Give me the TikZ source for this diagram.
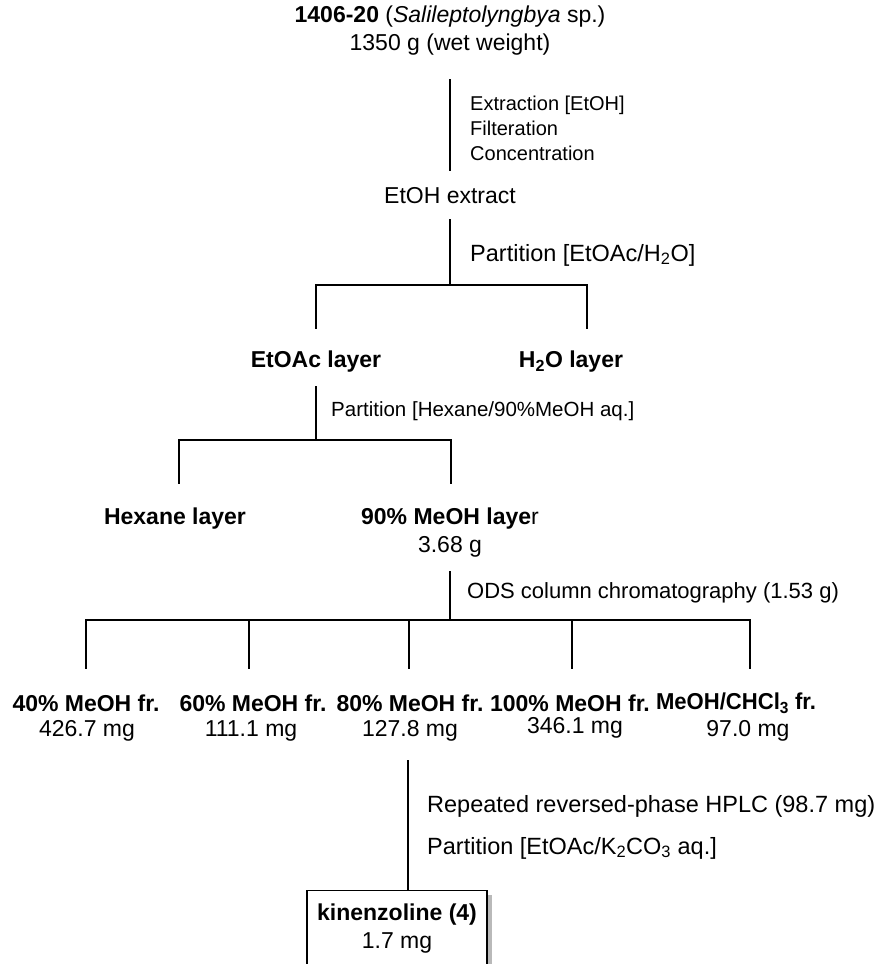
\documentclass[tikz,border=0pt]{standalone}
\usepackage{fontspec}
\setmainfont{Liberation Sans}
\newcommand\bigtxt{\fontsize{23}{28}\selectfont}
\newcommand\steptxt{\fontsize{23.5}{28}\selectfont}
\newcommand\midtxt{\fontsize{22}{27}\selectfont}
\newcommand\parttxt{\fontsize{20.5}{25}\selectfont}
\newcommand\smalltxt{\fontsize{20}{25}\selectfont}
\begin{document}
\begin{tikzpicture}[x=1pt,y=-1pt,
  lbl/.style={inner sep=0pt, font=\bigtxt, align=center},
  steplbl/.style={inner sep=0pt, anchor=west, align=left, font=\steptxt},
  conn/.style={line width=2.2pt, line cap=rect},
  thinconn/.style={line width=1.6pt}]
\useasboundingbox (0,0) rectangle (880,964);
\clip (0,0) rectangle (880,964);

% source material
\node[lbl] (src) at (450,31) {\textbf{1406-20} (\textit{Salileptolyngbya} sp.)\\1350 g (wet weight)};
\path (450,80) coordinate (s1) (450,170) coordinate (s2);
\draw[conn] (s1) -- (s2);
\node[steplbl, font=\smalltxt] (stepA) at (470,128) {Extraction [EtOH]\\Filteration\\Concentration};

% crude extract and first partition
\node[lbl] (ext) at (450,196) {EtOH extract};
\path (450,220) coordinate (e1) (450,285) coordinate (e2)
      (316,285) coordinate (eL) (587,285) coordinate (eR)
      (316,328) coordinate (eL2) (587,328) coordinate (eR2);
\draw[conn] (e1) -- (e2);
\draw[conn] (eL2) -- (eL) -- (eR) -- (eR2);
\node[steplbl] (stepB) at (470,255) {Partition [EtOAc/H\textsubscript{2}O]};

\node[lbl, font=\bfseries\bigtxt] (etoac) at (316,362) {EtOAc layer};
\node[lbl, font=\bfseries\bigtxt] (water) at (571,362) {H\textsubscript{2}O layer};

% second partition
\path (316,387) coordinate (p1) (316,440) coordinate (p2)
      (179,440) coordinate (pL) (451,440) coordinate (pR)
      (179,483) coordinate (pL2) (451,483) coordinate (pR2);
\draw[conn] (p1) -- (p2);
\draw[conn] (pL2) -- (pL) -- (pR) -- (pR2);
\node[steplbl, font=\parttxt] (stepC) at (331,411) {Partition [Hexane/90\%MeOH aq.]};

\node[lbl, font=\bfseries\bigtxt] (hex) at (175,519) {Hexane layer};
\node[lbl] (meoh) at (450,533) {{\bfseries 90\% MeOH laye}r\\3.68 g};

% ODS column
\path (450,572) coordinate (o1) (450,620) coordinate (o2)
      (86,620) coordinate (oL) (750,620) coordinate (oR);
\draw[conn] (o1) -- (o2);
\draw[conn] (oL) -- (oR);
\node[steplbl, font=\midtxt] (stepD) at (467,593) {ODS column chromatography (1.53 g)};

\foreach \xx/\nm in {86/f1, 249/f2, 409/f3, 572/f4, 750/f5}{
  \path (\xx,620) coordinate (\nm a) (\xx,668) coordinate (\nm b);
  \draw[conn] (\nm a) -- (\nm b);
}

\node[lbl, font=\bfseries\bigtxt] (fr40) at (86,703) {40\% MeOH fr.};
\node[lbl, font=\bfseries\bigtxt] (fr60) at (253,703) {60\% MeOH fr.};
\node[lbl, font=\bfseries\bigtxt] (fr80) at (410,703) {80\% MeOH fr.};
\node[lbl, font=\bfseries\bigtxt] (fr100) at (570,703) {100\% MeOH fr.};
\node[lbl, font=\bfseries\bigtxt, xscale=0.96] (frCh) at (736,703) {MeOH/CHCl\textsubscript{3} fr.};

\node[lbl] (m40) at (87,731) {426.7 mg};
\node[lbl] (m60) at (251,731) {111.1 mg};
\node[lbl] (m80) at (410,731) {127.8 mg};
\node[lbl] (m100) at (575,728) {346.1 mg};
\node[lbl] (mCh) at (748,731) {97.0 mg};

% HPLC purification
\node[draw, line width=1.4pt, minimum width=180pt, minimum height=76pt,
      anchor=north, align=center, font=\bigtxt, inner sep=0pt] (prod) at (397,890)
      {\textbf{kinenzoline (4)}\\1.7 mg};
\fill[gray!55] ([yshift=-5pt]prod.north east) rectangle ([xshift=4pt]prod.south east);
\path (408,760) coordinate (h1);
\draw[thinconn] (h1) -- (h1 |- prod.north);
\node[steplbl] (stepE) at (427,806) {Repeated reversed-phase HPLC (98.7 mg)};
\node[steplbl] (stepF) at (427,848) {Partition [EtOAc/K\textsubscript{2}CO\textsubscript{3} aq.]};
\end{tikzpicture}
\end{document}
